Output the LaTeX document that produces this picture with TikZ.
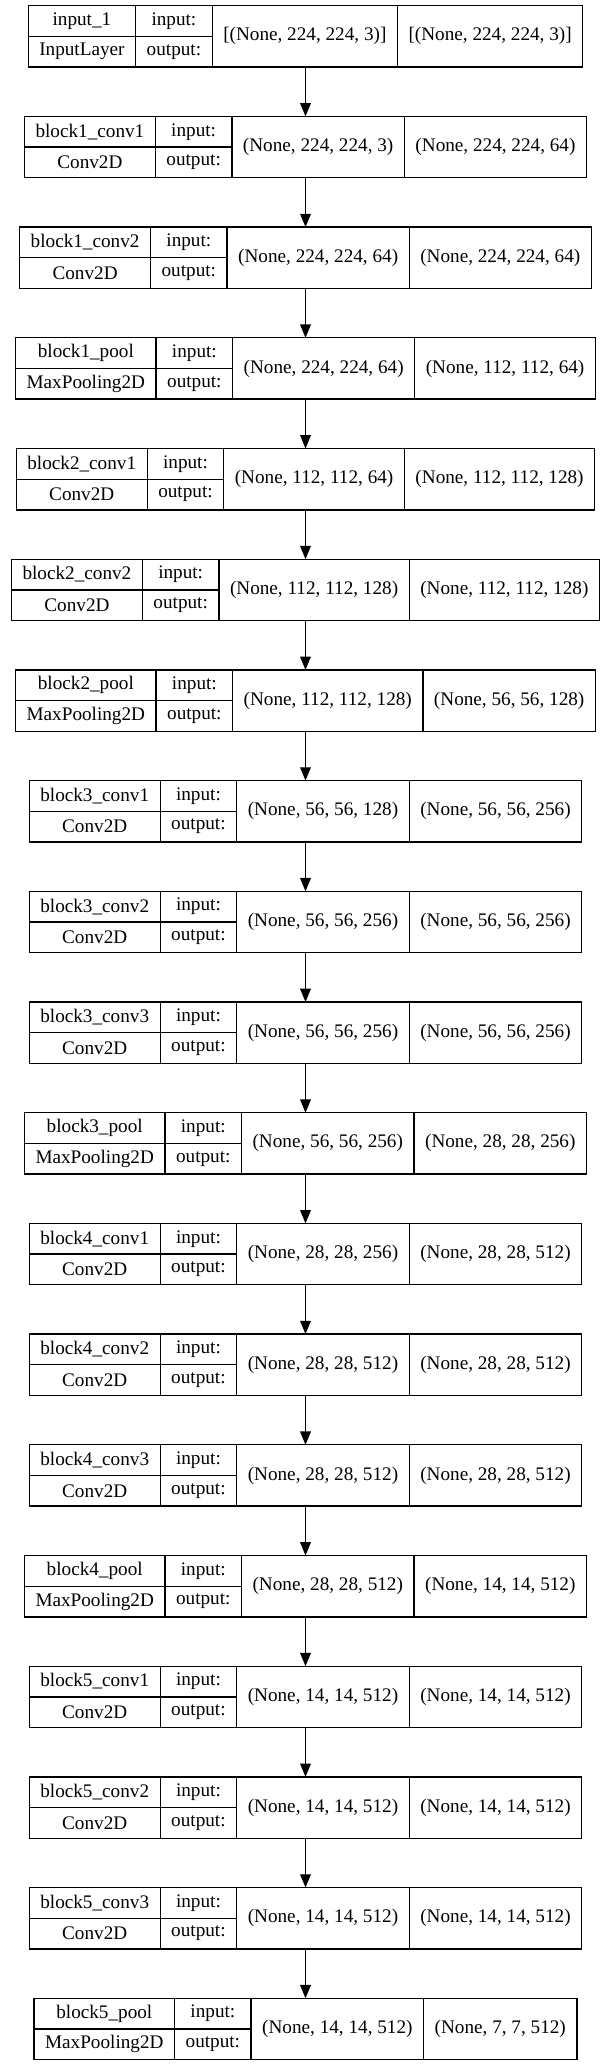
\documentclass[tikz,border=0pt]{standalone}
\usepackage{fontspec}
\setmainfont{Liberation Serif}
\usetikzlibrary{arrows.meta}
\newcommand\cellfont{\fontsize{14.4pt}{17pt}\selectfont}
\newlength\cpad \setlength\cpad{16.6pt}
\newlength\wname \newlength\wio \newlength\win \newlength\wout \newlength\wtmp
\tikzset{cell/.style={draw, line width=1pt, inner sep=0pt, outer sep=0pt,
           minimum height=23pt, anchor=north west, font=\cellfont},
         tallcell/.style={cell, minimum height=46pt},
         link/.style={line width=1pt, -{Triangle[length=10pt, width=8pt]}}}

% one record: #1 index, #2 layer name, #3 class, #4 input shape, #5 output shape
\newcommand\layer[5]{%
  \pgfinterruptpicture
    \settowidth\wname{\cellfont #2}\settowidth\wtmp{\cellfont #3}%
    \ifdim\wtmp>\wname \setlength\wname{\wtmp}\fi
    \settowidth\wio{\cellfont output:}%
    \settowidth\win{\cellfont #4}\settowidth\wout{\cellfont #5}%
    \global\wname=\dimexpr\wname+\cpad\relax
    \global\wio=\dimexpr\wio+\cpad\relax
    \global\win=\dimexpr\win+\cpad\relax
    \global\wout=\dimexpr\wout+\cpad\relax
  \endpgfinterruptpicture
  \setlength\wtmp{\dimexpr(\wname+\wio+\win+\wout)/2\relax}%
  \path (mid) ++({-\wtmp},{-4.275pt-83.025pt*#1}) coordinate (top#1);
  \node[cell, minimum width=\wname] (nm#1) at (top#1) {#2};
  \node[cell, minimum width=\wname] (cls#1) at (nm#1.south west) {#3};
  \node[cell, minimum width=\wio] (inlbl#1) at (nm#1.north east) {input:};
  \node[cell, minimum width=\wio] (outlbl#1) at (inlbl#1.south west) {output:};
  \node[tallcell, minimum width=\win] (inshape#1) at (inlbl#1.north east) {#4};
  \node[tallcell, minimum width=\wout] (outshape#1) at (inshape#1.north east) {#5};
}

\begin{document}
\begin{tikzpicture}
  \useasboundingbox (0pt,0pt) rectangle (458.25pt,-1548.75pt);
  \coordinate (mid) at (229.125pt,0pt);

  \layer{0}{input\_1}{InputLayer}{[(None, 224, 224, 3)]}{[(None, 224, 224, 3)]}
  \layer{1}{block1\_conv1}{Conv2D}{(None, 224, 224, 3)}{(None, 224, 224, 64)}
  \layer{2}{block1\_conv2}{Conv2D}{(None, 224, 224, 64)}{(None, 224, 224, 64)}
  \layer{3}{block1\_pool}{MaxPooling2D}{(None, 224, 224, 64)}{(None, 112, 112, 64)}
  \layer{4}{block2\_conv1}{Conv2D}{(None, 112, 112, 64)}{(None, 112, 112, 128)}
  \layer{5}{block2\_conv2}{Conv2D}{(None, 112, 112, 128)}{(None, 112, 112, 128)}
  \layer{6}{block2\_pool}{MaxPooling2D}{(None, 112, 112, 128)}{(None, 56, 56, 128)}
  \layer{7}{block3\_conv1}{Conv2D}{(None, 56, 56, 128)}{(None, 56, 56, 256)}
  \layer{8}{block3\_conv2}{Conv2D}{(None, 56, 56, 256)}{(None, 56, 56, 256)}
  \layer{9}{block3\_conv3}{Conv2D}{(None, 56, 56, 256)}{(None, 56, 56, 256)}
  \layer{10}{block3\_pool}{MaxPooling2D}{(None, 56, 56, 256)}{(None, 28, 28, 256)}
  \layer{11}{block4\_conv1}{Conv2D}{(None, 28, 28, 256)}{(None, 28, 28, 512)}
  \layer{12}{block4\_conv2}{Conv2D}{(None, 28, 28, 512)}{(None, 28, 28, 512)}
  \layer{13}{block4\_conv3}{Conv2D}{(None, 28, 28, 512)}{(None, 28, 28, 512)}
  \layer{14}{block4\_pool}{MaxPooling2D}{(None, 28, 28, 512)}{(None, 14, 14, 512)}
  \layer{15}{block5\_conv1}{Conv2D}{(None, 14, 14, 512)}{(None, 14, 14, 512)}
  \layer{16}{block5\_conv2}{Conv2D}{(None, 14, 14, 512)}{(None, 14, 14, 512)}
  \layer{17}{block5\_conv3}{Conv2D}{(None, 14, 14, 512)}{(None, 14, 14, 512)}
  \layer{18}{block5\_pool}{MaxPooling2D}{(None, 14, 14, 512)}{(None, 7, 7, 512)}

  % edges between consecutive layers
  \foreach \a [evaluate=\a as \b using int(\a+1)] in {0,...,17}
    \draw[link] (inshape\a.south -| mid) -- (inshape\b.north -| mid);
\end{tikzpicture}
\end{document}
